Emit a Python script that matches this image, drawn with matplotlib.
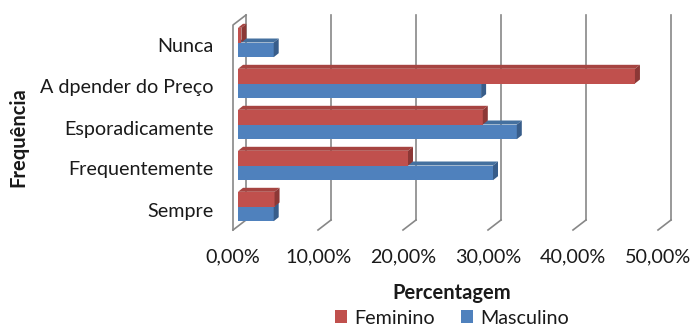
"""
Gráfico de barras 3D (estilo Excel): frequência por sexo
"""

import matplotlib
matplotlib.use("Agg")
import matplotlib.pyplot as plt
from matplotlib.patches import Polygon, Patch

categories = ["Sempre", "Frequentemente", "Esporadicamente", "A dpender do Preço", "Nunca"]
feminino = [4.3, 20.0, 28.8, 46.7, 0.4]
masculino = [4.2, 30.0, 32.8, 28.6, 4.2]
xticks = [0, 10, 20, 30, 40, 50]
xtick_labels = ["0,00%", "10,00%", "20,00%", "30,00%", "40,00%", "50,00%"]

RED, RED_DARK, RED_TOP = "#C0504D", "#8C3836", "#A64441"
BLUE, BLUE_DARK, BLUE_TOP = "#4F81BD", "#385D8A", "#44709F"
GRID = "#878787"
TXT = "#1a1a1a"

W, H = 694, 328
PX_X = 8.5    # px por 1%
PX_Y = 41.0   # px por categoria

plt.rcParams["font.family"] = ["Lato", "DejaVu Sans"]

fig = plt.figure(figsize=(W / 100, H / 100), dpi=100)
ax = fig.add_axes([233 / W, (H - 230) / H, 425 / W, 205 / H])
ax.set_xlim(0, 50)
ax.set_ylim(-0.5, 4.5)
for s in ax.spines.values():
    s.set_visible(False)

# profundidade da parede e das barras (em unidades de dados)
wall_dx, wall_dy = 13 / PX_X, 10 / PX_Y
bar_ox, bar_oy = 5 / PX_X, 3 / PX_Y
bar_dx, bar_dy = 5 / PX_X, 4 / PX_Y

ymin, ymax = -0.5, 4.5
# parede de fundo e chão
for xv in xticks:
    ax.plot([xv + wall_dx, xv + wall_dx], [ymin + wall_dy, ymax + wall_dy],
            color=GRID, lw=1.2, clip_on=False, zorder=1)
    ax.plot([xv, xv + wall_dx], [ymin, ymin + wall_dy],
            color=GRID, lw=1.2, clip_on=False, zorder=1)
# parede lateral
ax.plot([0, 0, wall_dx], [ymin, ymax, ymax + wall_dy],
        color=GRID, lw=1.2, clip_on=False, zorder=1)


def bar3d(y0, h, v, face, top, side, z):
    x0 = bar_ox
    x1 = bar_ox + v
    yb = y0 + bar_oy
    yt = yb + h
    ax.add_patch(Polygon([(x0, yb), (x1, yb), (x1, yt), (x0, yt)],
                         closed=True, fc=face, ec="none", clip_on=False, zorder=z))
    ax.add_patch(Polygon([(x0, yt), (x1, yt), (x1 + bar_dx, yt + bar_dy), (x0 + bar_dx, yt + bar_dy)],
                         closed=True, fc=top, ec="none", clip_on=False, zorder=z))
    ax.add_patch(Polygon([(x1, yb), (x1 + bar_dx, yb + bar_dy), (x1 + bar_dx, yt + bar_dy), (x1, yt)],
                         closed=True, fc=side, ec="none", clip_on=False, zorder=z))


bh = 14.7 / PX_Y
z = 2
for i in range(len(categories) - 1, -1, -1):
    bar3d(i - bh, bh, masculino[i], BLUE, BLUE_TOP, BLUE_DARK, z)
    z += 1
    bar3d(i, bh, feminino[i], RED, RED_TOP, RED_DARK, z)
    z += 1

FS = 14.2
ax.set_xticks(xticks)
ax.set_xticklabels(xtick_labels, fontsize=FS, color=TXT)
ax.set_yticks(range(len(categories)))
ax.set_yticklabels(categories, fontsize=FS, color=TXT)
ax.tick_params(axis="x", length=0, pad=13)
ax.tick_params(axis="y", length=0, pad=14)

fig.text(452 / W, 1 - 293 / H, "Percentagem", ha="center", va="center",
         fontsize=14.5, fontweight="bold", color=TXT)
fig.text(18 / W, 1 - 137 / H, "Frequência", ha="center", va="center",
         rotation=90, fontsize=14.5, fontweight="bold", color=TXT)

handles = [Patch(fc=RED, ec="none"), Patch(fc=BLUE, ec="none")]
fig.legend(handles, ["Feminino", "Masculino"], loc="center",
           bbox_to_anchor=(452 / W, 1 - 318 / H), ncol=2, frameon=False,
           fontsize=FS, handlelength=0.6, handleheight=0.6, handletextpad=0.4,
           columnspacing=1.3, labelcolor=TXT)

fig.savefig("out.png", dpi=100)
